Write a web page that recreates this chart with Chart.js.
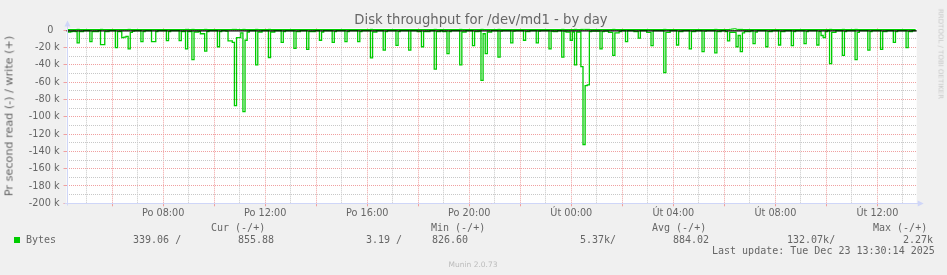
<!DOCTYPE html>
<html><head><meta charset="utf-8">
<script src="https://cdn.jsdelivr.net/npm/chart.js@4.4.1/dist/chart.umd.min.js"></script>
<style>
html,body{margin:0;padding:0;background:#f0f0f0;width:947px;height:275px;overflow:hidden;}
#wrap{position:relative;width:947px;height:275px;}
canvas{position:absolute;left:0;top:0;}
.a{position:absolute;white-space:pre;font-family:"DejaVu Sans",sans-serif;color:#666;}
.m{position:absolute;white-space:pre;font-family:"DejaVu Sans Mono",monospace;font-size:10px;line-height:12px;color:#666;}
</style></head><body>
<div id="wrap">
<canvas id="c" width="947" height="275"></canvas>
<div class="a" id="title" style="left:481px;top:12px;font-size:13.2px;line-height:16px;transform:translateX(-50%);">Disk throughput for /dev/md1 - by day</div>
<div class="a" style="left:9px;top:116px;font-size:11.2px;line-height:13px;transform:translate(-50%,-50%) rotate(-90deg);">Pr second read (-) / write (+)</div>
<div class="a" style="left:940px;top:54px;font-size:7px;line-height:9px;color:#c8c8c8;transform:translate(-50%,-50%) rotate(90deg);">RRDTOOL / TOBI OETIKER</div>
<div class="a" style="left:473px;top:260px;font-size:7.5px;line-height:10px;color:#bbb;transform:translateX(-50%);">Munin 2.0.73</div>
<div id="legend"></div>
</div>
<script>
// ---- data (kB/s), one sample every 5 minutes ----
const startMinute = 255;   // Po 04:15 (minutes from Monday 00:00)
const stepMinutes = 5;
const axisMin = 252.5, axisMax = 2252.5;

const readK = [
 -1,-2,-1.5,-1,-1.5,-14.5,-1.5,-1.5,-0.3,-0.3,-0.3,-13,-1.5,-1.5,-1.5,-0.3,-16.5,-16.5,-1.5,-1.5,
 -0.3,-0.3,-0.3,-20,-1.5,-1.5,-8.5,-8,-7,-21.5,-2.5,-1,-0.3,-0.3,-0.3,-13,-1.5,-0.3,-0.3,-0.3,
 -13,-13,-1.5,-0.3,-0.3,-0.3,-0.3,-12,-1.5,-0.3,-0.3,-0.3,-0.3,-12,-1.5,-1.5,-21.5,-1.5,-1.5,-34,
 -2,-2,-1.5,-4,-4,-24,-1.5,-0.3,-0.3,-0.3,-0.3,-19,-1.5,-0.3,-0.3,-1,-12.3,-12.3,-14,-87,
 -8.5,-8.5,-3,-94,-11.5,-2,-0.3,-0.3,-0.3,-40,-2,-2,-0.3,-0.3,-0.3,-31.5,-2,-2,-0.3,-0.3,
 -0.3,-14,-1.5,-0.3,-0.3,-0.3,-0.3,-21,-1.5,-1.5,-0.3,-0.3,-0.3,-22,-1.5,-1.5,-1.5,-0.3,-0.3,-11.5,
 -2,-0.3,-0.3,-0.3,-0.3,-14,-1.5,-0.3,-0.3,-0.3,-0.3,-13,-1.5,-0.3,-0.3,-0.3,-0.3,-13,-1.5,-0.3,
 -0.3,-0.3,-0.3,-32,-2,-2,-0.3,-0.3,-0.3,-23,-1.5,-0.3,-0.3,-0.3,-0.3,-17.5,-1.5,-0.3,-0.3,-0.3,
 -0.3,-23,-0.5,-0.5,-0.5,-1.5,-1.5,-19,-1.5,-1.5,-1.5,-0.3,-0.3,-45,-1.5,-1.5,-0.3,-1.5,-1.5,-27,
 -1.5,-0.3,-0.3,-0.3,-0.3,-40,-2,-2,-0.3,-0.3,-0.3,-17.7,-1.5,-1.5,-1,-58,-4,-27,-2,-2,
 -0.3,-0.3,-0.3,-31,-1,-0.3,-0.3,-0.3,-0.3,-14.6,-1,-0.3,-0.3,-0.3,-0.3,-11.5,-1.5,-1.5,-0.3,-0.3,
 -0.3,-14.6,-1,-0.3,-0.3,-0.3,-0.3,-21.5,-1,-1.5,-1.5,-0.3,-0.3,-31,-1,-2,-2,-11.5,-2,-40,
 -2,-2,-42,-132,-64,-63,-1.5,-1,-1,-1,-1,-21.5,-1.5,-1,-1,-2.3,-2.3,-29,-3,-3,
 -1.5,-0.5,-0.5,-13,-0.5,-0.5,-0.5,-1.5,-1.5,-9,-0.5,-0.5,-0.5,-2.3,-2.3,-17.7,-0.5,-0.5,-0.5,-0.5,
 -0.5,-49,-2.3,-2.3,-0.3,-0.3,-0.3,-17,-1.5,-1.5,-0.3,-0.3,-0.3,-21.5,-1.5,-1.5,-0.3,-0.3,-0.3,-24.6,
 -1,-0.3,-0.3,-0.3,-0.3,-26,-1.5,-1.5,-0.3,-0.3,-1.5,-12.3,-2.3,-2.3,-2.3,-19,-6,-24.6,-3,-1.5,
 -1.5,-1.5,-0.3,-15.4,-2,-0.3,-0.3,-0.3,-0.3,-19,-1.5,-1.5,-0.3,-0.3,-0.3,-17,-1.5,-1.5,-0.3,-0.3,
 -0.3,-17.7,-1.5,-0.3,-0.3,-0.3,-0.3,-15.4,-1.5,-0.3,-0.3,-0.3,-0.3,-17,-1.5,-6,-8.5,-1.5,-0.3,-38.5,
 -2.3,-2.3,-0.3,-0.3,-0.3,-29,-1.5,-0.3,-0.3,-0.3,-0.3,-34,-2.3,-0.3,-0.3,-0.3,-0.3,-23,-1.5,-0.3,
 -0.3,-0.3,-0.3,-22,-1.5,-1.5,-0.3,-0.3,-0.3,-14,-1.5,-0.3,-0.3,-0.3,-0.3,-20,-1.5,-1.5,-0.5,-0.34
];

const writeK = [
 0.9,0.8,0.9,0.8,0.9,1.0,0.8,0.8,0.9,0.8,0.8,0.9,0.9,0.8,0.8,0.9,1.0,0.9,0.8,0.8,
 0.8,0.9,0.8,0.9,0.9,0.8,0.8,0.9,0.8,1.0,0.9,0.8,0.8,0.9,0.8,0.9,0.9,0.8,0.8,0.9,
 0.9,0.9,0.8,0.8,0.9,0.8,0.8,0.9,0.9,0.8,0.8,0.9,0.8,0.9,0.9,0.8,1.0,0.9,0.8,1.0,
 0.9,0.8,0.8,0.9,0.9,1.0,0.8,0.8,0.9,0.8,0.8,0.9,0.9,0.8,0.8,0.9,0.9,0.9,1.0,1.1,
 0.9,0.9,0.8,1.1,0.9,0.8,0.8,0.9,0.8,1.0,0.9,0.8,0.8,0.9,0.8,1.0,0.9,0.8,0.8,0.9,
 0.8,0.9,0.8,0.8,0.9,0.8,0.8,0.9,0.9,0.8,0.8,0.9,0.8,0.9,0.9,0.8,0.8,0.9,0.8,0.9,
 0.9,0.8,0.8,0.9,0.8,0.9,0.9,0.8,0.8,0.9,0.8,0.9,0.9,0.8,0.8,0.9,0.8,0.9,0.9,0.8,
 0.8,0.9,0.8,1.0,0.9,0.8,0.8,0.9,0.8,0.9,0.9,0.8,0.8,0.9,0.8,0.9,0.9,0.8,0.8,0.9,
 0.8,0.9,0.8,0.8,0.9,0.8,0.8,0.9,0.9,0.8,0.8,0.9,0.8,1.0,0.9,0.8,0.8,0.9,0.8,0.9,
 0.9,0.8,0.8,0.9,0.8,1.0,0.9,0.8,0.8,0.9,0.8,0.9,0.9,0.8,0.8,1.1,0.9,0.9,0.8,0.9,
 0.8,0.9,0.8,1.0,0.9,0.8,0.8,0.9,0.8,0.9,0.9,0.8,0.8,0.9,0.8,0.9,0.9,0.8,0.8,0.9,
 0.8,0.9,0.8,0.8,0.9,0.8,0.8,0.9,0.9,0.8,0.8,0.9,0.8,1.0,0.9,0.8,0.8,0.9,0.8,1.0,
 0.9,0.9,1.0,1.2,1.0,1.0,0.9,0.8,0.8,0.9,0.8,0.9,0.9,0.8,0.8,0.9,0.8,1.0,0.9,0.8,
 0.8,0.9,0.8,0.9,0.9,0.8,0.8,0.9,0.8,0.9,0.9,0.8,0.8,0.9,0.8,0.9,0.9,0.8,0.8,0.9,
 0.8,1.1,0.9,0.8,0.8,0.9,0.8,0.9,0.9,0.8,0.8,0.9,0.8,0.9,0.9,0.8,0.8,0.9,0.8,0.9,
 0.9,0.8,0.8,0.9,0.8,1.0,0.9,0.8,0.8,0.9,0.9,0.9,1.2,1.6,2.27,1.2,1.0,1.1,0.9,0.8,
 0.8,0.9,0.8,0.9,0.9,0.8,0.8,0.9,0.8,0.9,0.9,0.8,0.8,0.9,0.8,0.9,0.9,0.8,0.8,0.9,
 0.8,0.9,0.8,0.8,0.9,0.8,0.8,0.9,0.9,0.8,0.8,0.9,0.8,0.9,0.9,0.8,0.8,0.9,0.8,1.0,
 0.9,0.8,0.8,0.9,0.8,1.0,0.9,0.8,0.8,0.9,0.8,1.0,0.9,0.8,0.8,0.9,0.8,0.9,0.9,0.8,
 0.8,0.9,0.8,0.9,0.9,0.8,0.8,0.9,0.8,0.9,0.9,0.8,0.8,0.9,0.8,0.9,0.9,0.8,0.8,0.856
];

const dayNames = ['Po', 'Út'];
const seriesName = 'Bytes';
const legendHeads = ['Cur (-/+)', 'Min (-/+)', 'Avg (-/+)', 'Max (-/+)'];
const legendValues = ['339.06 /', '855.88', '3.19 /', '826.60', '5.37k/', '884.02', '132.07k/', '2.27k'];
const lastUpdate = 'Last update: Tue Dec 23 13:30:14 2025';

// ---- legend text (HTML) ----
const leg = document.getElementById('legend');
function addText(txt, left, top){ const d=document.createElement('div'); d.className='m'; d.textContent=txt; d.style.left=left+'px'; d.style.top=top+'px'; leg.appendChild(d); }
const headLeft = [211, 431, 652, 873];
legendHeads.forEach((h,i)=>addText(h, headLeft[i], 222));
const valLeft = [133, 238, 366, 432, 580, 673, 787, 903];
legendValues.forEach((v,i)=>addText(v, valLeft[i], 233.5));
addText(seriesName, 26, 233.5);
addText(lastUpdate, 712, 245);
const sq=document.createElement('div'); sq.style.cssText='position:absolute;left:14px;top:237px;width:6px;height:6px;background:#00cc00;'; leg.appendChild(sq);

// ---- chart ----
const RED = '#f0a0a0', GREY = '#c8c8c8', AXIS = '#cfd6f8';
const readPts = readK.map((v,i)=>({x: startMinute + i*stepMinutes, y: v*1000}));
const writePts = writeK.map((v,i)=>({x: startMinute + i*stepMinutes, y: v*1000}));

const hourTicks = []; for (let m = 300; m <= 2220; m += 60) hourTicks.push({value:m});
const yTicks = []; for (let v = -200000; v <= 0; v += 10000) yTicks.push({value:v});

const munin = {
  id:'munin',
  beforeDraw(chart){ const {ctx, chartArea:a} = chart; ctx.save(); ctx.fillStyle='#fff'; ctx.fillRect(a.left, a.top, a.right-a.left, a.bottom-a.top); ctx.restore(); },
  afterDatasetsDraw(chart){
    const {ctx, chartArea:a, scales:{y}} = chart;
    const y0 = y.getPixelForValue(0);
    ctx.save();
    ctx.strokeStyle='#000'; ctx.lineWidth=1.3;
    ctx.beginPath(); ctx.moveTo(a.left, y0+0.6); ctx.lineTo(a.right, y0+0.6); ctx.stroke();
    ctx.strokeStyle=AXIS; ctx.fillStyle=AXIS; ctx.lineWidth=1;
    const lx = Math.round(a.left)+0.5, by = Math.round(a.bottom)+0.5;
    ctx.beginPath(); ctx.moveTo(lx, by+2); ctx.lineTo(lx, a.top-4); ctx.stroke();
    ctx.beginPath(); ctx.moveTo(lx, 20.5); ctx.lineTo(lx-3, 26.5); ctx.lineTo(lx+3, 26.5); ctx.closePath(); ctx.fill();
    ctx.beginPath(); ctx.moveTo(lx-3, by); ctx.lineTo(a.right+2, by); ctx.stroke();
    ctx.beginPath(); ctx.moveTo(a.right+7, by); ctx.lineTo(a.right+1, by-3); ctx.lineTo(a.right+1, by+3); ctx.closePath(); ctx.fill();
    ctx.restore();
  }
};

new Chart(document.getElementById('c'), {
  type:'line',
  data:{ datasets:[
    {label:'read', data:readPts, borderColor:'#00cc00', borderWidth:1.3, pointRadius:0, stepped:'middle', fill:false},
    {label:'write', data:writePts, borderColor:'#00cc00', borderWidth:1.1, pointRadius:0, stepped:'middle', fill:false}
  ]},
  options:{
    responsive:false, animation:false, devicePixelRatio:1,
    layout:{padding:{left:0, right:30.3, top:28.3, bottom:0}},
    plugins:{legend:{display:false}, title:{display:false}, tooltip:{enabled:false}},
    scales:{
      x:{ type:'linear', min:axisMin, max:axisMax,
        afterBuildTicks(s){ s.ticks = hourTicks.map(t=>({value:t.value})); },
        afterFit(s){ s.height = 71.7; },
        ticks:{ autoSkip:false, maxRotation:0, padding:1, color:'#666', font:{family:'DejaVu Sans', size:9.7},
          callback(v){ if (v % 240 !== 0) return ''; const d = Math.floor(v/1440); const h = Math.floor((v%1440)/60); return dayNames[d] + ' ' + String(h).padStart(2,'0') + ':00'; } },
        grid:{ color:(c)=> (c.tick && c.tick.value % 120 === 0) ? RED : GREY, lineWidth:1, drawTicks:true, tickLength:3,
          tickColor:(c)=> (c.tick && c.tick.value % 120 === 0) ? RED : 'rgba(0,0,0,0)' },
        border:{display:false, dash:[1,1]}
      },
      y:{ type:'linear', min:-200000, max:2300,
        afterBuildTicks(s){ s.ticks = yTicks.map(t=>({value:t.value})); },
        afterFit(s){ s.width = 66.5; },
        ticks:{ autoSkip:false, padding:4, color:'#666', font:{family:'DejaVu Sans', size:9.7},
          callback(v){ if (v % 20000 !== 0) return ''; return v === 0 ? '0  ' : (v/1000) + ' k'; } },
        grid:{ color:(c)=> (c.tick && c.tick.value % 20000 === 0) ? RED : GREY, lineWidth:1, drawTicks:true, tickLength:3,
          tickColor:(c)=> (c.tick && c.tick.value % 20000 === 0) ? RED : 'rgba(0,0,0,0)' },
        border:{display:false, dash:[1,1]}
      }
    }
  },
  plugins:[munin]
});
</script>
</body></html>
